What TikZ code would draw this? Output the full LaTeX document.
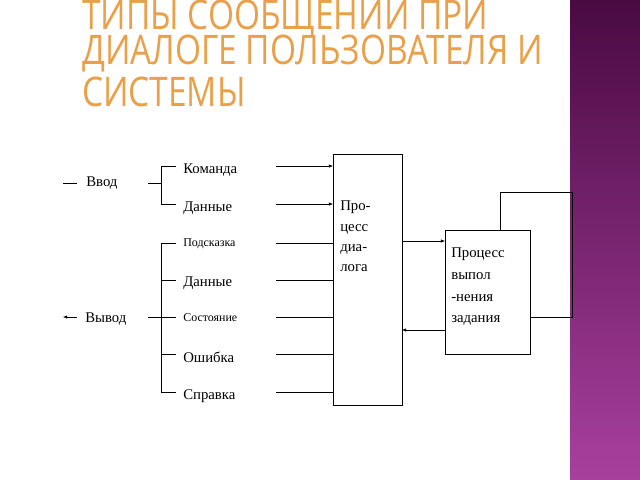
\documentclass[tikz,border=0pt]{standalone}
\usepackage{fontspec}
\setmainfont{Liberation Serif}
\newfontfamily\titlefont{Open Sans}
\usetikzlibrary{arrows.meta}
\definecolor{barTop}{HTML}{4A0A42}
\definecolor{barBot}{HTML}{A8409E}
\definecolor{titleOrange}{HTML}{E9A048}
\begin{document}
\begin{tikzpicture}[x=0.025cm,y=-0.025cm,
  lbl/.style={anchor=west,inner sep=0pt,font=\fontsize{10.5}{12}\selectfont},
  lblsmall/.style={anchor=west,inner sep=0pt,font=\fontsize{8.5}{10}\selectfont},
  titleline/.style={anchor=west,inner sep=0pt,text=titleOrange,xscale=0.82,transform shape,
    font=\titlefont\fontsize{29}{30}\selectfont},
  conn/.style={thin},
  arr/.style={thin,-{Latex[length=3pt,width=2.5pt]}}]
\useasboundingbox (0,0) rectangle (640,480);
\clip (0,0) rectangle (640,480);
% background bar
\shade[top color=barTop,bottom color=barBot] (570,0) rectangle (640,480);
% title
\node[titleline] (t1) at (82,15) {ТИПЫ СООБЩЕНИЙ ПРИ};
\node[titleline] (t2) at (82,54) {ДИАЛОГЕ ПОЛЬЗОВАТЕЛЯ И};
\node[titleline] (t3) at (82,92) {СИСТЕМЫ};
% boxes
\draw (333,154) rectangle (402,405);
\node[anchor=north west,inner sep=0pt,align=left,font=\fontsize{10.5}{14.4}\selectfont] (dtext) at (340,201) {Про-\\цесс\\диа-\\лога};
\draw[fill=white] (445,230) rectangle (530,354);
\node[anchor=north west,inner sep=0pt,align=left,font=\fontsize{10.5}{15.4}\selectfont] (ttext) at (451,248) {Процесс\\выпол\\-нения\\задания};
% loop and links between boxes
\draw[conn] (500,230) -- (500,192) -- (572,192) -- (572,317) -- (530,317);
\draw[arr] (402,241) -- (445,241);
\draw[arr] (445,330) -- (402,330);
% messages
\node[lbl] (cmd) at (183,170) {Команда};
\node[lbl] (din) at (183,208) {Данные};
\node[lblsmall] (hint) at (183,244) {Подсказка};
\node[lbl] (dout) at (183,283) {Данные};
\node[lblsmall] (state) at (183,318) {Состояние};
\node[lbl] (err) at (183,357) {Ошибка};
\node[lbl] (help) at (183,396) {Справка};
\node[lbl] (vvod) at (86,183) {Ввод};
\node[lbl] (vyvod) at (85,319) {Вывод};
\draw[arr] (276,166) -- (333,166);
\draw[arr] (276,204) -- (333,204);
\foreach \y in {243,280,317,354,392}
  \draw[conn] (276,\y) -- (333,\y);
% brackets
\draw[conn] (176,166) -- (161,166) -- (161,204) -- (176,204);
\draw[conn] (148,183) -- (161,183);
\draw[conn] (63,183) -- (77,183);
\draw[conn] (176,243) -- (161,243) -- (161,392) -- (176,392);
\foreach \y in {280,354}
  \draw[conn] (161,\y) -- (176,\y);
\draw[conn] (148,317) -- (176,317);
\draw[arr] (77,317) -- (63,317);
\end{tikzpicture}
\end{document}
